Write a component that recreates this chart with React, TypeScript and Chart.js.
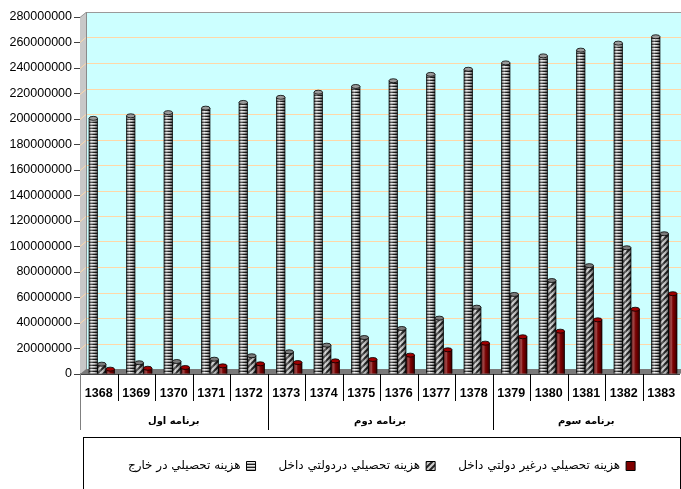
import React, { useEffect, useRef } from 'react';
import { Chart, registerables } from 'chart.js';
Chart.register(...registerables);

const years = ['1368', '1369', '1370', '1371', '1372', '1373', '1374', '1375', '1376', '1377', '1378', '1379', '1380', '1381', '1382', '1383'];
const abroad = [200500000, 202500000, 205000000, 208500000, 213000000, 217000000, 221000000, 225500000, 230000000, 235000000, 239000000, 244000000, 249500000, 254000000, 259500000, 264500000];
const govDomestic = [7700000, 8800000, 9800000, 11600000, 14300000, 17400000, 22600000, 28600000, 35700000, 43800000, 52400000, 62400000, 73300000, 85000000, 99000000, 110000000];
const privateDomestic = [3800000, 4500000, 5100000, 6400000, 8000000, 9000000, 10300000, 11400000, 14800000, 19000000, 24200000, 29200000, 33600000, 42500000, 50800000, 63000000];
const seriesNames = ['هزينه تحصيلي در خارج', 'هزينه تحصيلي دردولتي داخل', 'هزينه تحصيلي درغير دولتي داخل'];
const programs = ['برنامه اول', 'برنامه دوم', 'برنامه سوم'];
const programSizes = [5, 6, 5];
const yMax = 280000000;
const yStep = 20000000;

function makeStripes(): CanvasPattern | string {
  const c = document.createElement('canvas');
  c.width = 4; c.height = 3;
  const g = c.getContext('2d');
  if (!g) return '#888';
  g.fillStyle = '#ececec'; g.fillRect(0, 0, 4, 1);
  g.fillStyle = '#a0a0a0'; g.fillRect(0, 1, 4, 1);
  g.fillStyle = '#202020'; g.fillRect(0, 2, 4, 1);
  return g.createPattern(c, 'repeat') || '#888';
}

function makeHatch(): CanvasPattern | string {
  const c = document.createElement('canvas');
  c.width = 6; c.height = 6;
  const g = c.getContext('2d');
  if (!g) return '#666';
  g.fillStyle = '#d0d0d0'; g.fillRect(0, 0, 6, 6);
  g.strokeStyle = '#262626'; g.lineWidth = 2;
  g.beginPath();
  g.moveTo(-1, 7); g.lineTo(7, -1);
  g.moveTo(-4, 4); g.lineTo(4, -4);
  g.moveTo(2, 10); g.lineTo(10, 2);
  g.stroke();
  return g.createPattern(c, 'repeat') || '#666';
}

const DX = 6, DY = 5, SHIFT = 3;
const capColors = ['#9a9a9a', '#7a7a7a', '#a00000'];

const threeD = {
  id: 'threeD',
  afterLayout(chart: any) {
    const lg = chart.legend;
    if (lg) { lg.left = 83; lg.right = 680; lg.width = 597; }
  },
  beforeDatasetsDraw(chart: any) {
    const { ctx, chartArea, scales } = chart;
    const { left, top, right, bottom } = chartArea;
    const y = scales.y;
    ctx.save();
    ctx.fillStyle = '#CCFFFF';
    ctx.fillRect(left + DX, top - DY, right - left, bottom - top);
    ctx.fillStyle = '#C8C8C8';
    ctx.beginPath();
    ctx.moveTo(left, top); ctx.lineTo(left + DX, top - DY); ctx.lineTo(left + DX, bottom - DY); ctx.lineTo(left, bottom);
    ctx.closePath(); ctx.fill();
    ctx.lineWidth = 1;
    y.ticks.forEach((t: any) => {
      if (t.value <= 0) return;
      const py = Math.round(y.getPixelForValue(t.value)) + 0.5;
      ctx.strokeStyle = t.value >= yMax ? '#9a9a9a' : '#FFD8A8';
      ctx.beginPath();
      ctx.moveTo(left, py); ctx.lineTo(left + DX, py - DY); ctx.lineTo(right + DX, py - DY);
      ctx.stroke();
    });
    ctx.strokeStyle = '#8a8a8a';
    ctx.beginPath();
    ctx.moveTo(left + DX + 0.5, top - DY); ctx.lineTo(left + DX + 0.5, bottom - DY);
    ctx.stroke();
    ctx.fillStyle = '#7a7a7a';
    ctx.beginPath();
    ctx.moveTo(left, bottom); ctx.lineTo(left + DX, bottom - DY); ctx.lineTo(right + DX, bottom - DY); ctx.lineTo(right, bottom);
    ctx.closePath(); ctx.fill();
    ctx.restore();
    ctx.save();
    ctx.translate(SHIFT, 0);
  },
  afterDatasetsDraw(chart: any) {
    const { ctx } = chart;
    chart.data.datasets.forEach((ds: any, di: number) => {
      const meta = chart.getDatasetMeta(di);
      meta.data.forEach((el: any) => {
        const { x, y, base, width } = el.getProps(['x', 'y', 'base', 'width'], true);
        const l = x - width / 2;
        const h = base - y;
        const grad = ctx.createLinearGradient(l, 0, l + width, 0);
        grad.addColorStop(0, 'rgba(0,0,0,0.55)');
        grad.addColorStop(0.35, 'rgba(255,255,255,0.25)');
        grad.addColorStop(0.6, 'rgba(0,0,0,0.05)');
        grad.addColorStop(1, 'rgba(0,0,0,0.6)');
        ctx.fillStyle = grad;
        ctx.fillRect(l, y, width, h);
        ctx.strokeStyle = 'rgba(0,0,0,0.85)';
        ctx.lineWidth = 0.8;
        ctx.beginPath();
        ctx.moveTo(l, y); ctx.lineTo(l, base);
        ctx.moveTo(l + width, y); ctx.lineTo(l + width, base);
        ctx.stroke();
        ctx.beginPath();
        ctx.ellipse(x, y, width / 2, 2, 0, 0, Math.PI * 2);
        ctx.fillStyle = capColors[di];
        ctx.fill();
        ctx.strokeStyle = '#000';
        ctx.stroke();
      });
    });
    ctx.restore();
  },
  afterDraw(chart: any) {
    const { ctx, chartArea, scales } = chart;
    const { left, right, bottom } = chartArea;
    const x = scales.x;
    const n = years.length;
    const half = (x.getPixelForValue(1) - x.getPixelForValue(0)) / 2;
    const edge = (i: number) => (i < n ? x.getPixelForValue(i) - half : x.getPixelForValue(n - 1) + half);
    ctx.save();
    ctx.strokeStyle = '#404040';
    ctx.lineWidth = 1;
    ctx.beginPath();
    ctx.moveTo(left, bottom + 0.5); ctx.lineTo(right, bottom + 0.5);
    ctx.stroke();
    ctx.strokeStyle = '#000';
    ctx.beginPath();
    for (let i = 1; i < n; i++) {
      const px = Math.round(edge(i)) + 0.5;
      ctx.moveTo(px, bottom); ctx.lineTo(px, bottom + 27);
    }
    ctx.stroke();
    let start = 0;
    ctx.font = 'bold 10px "DejaVu Sans"';
    ctx.fillStyle = '#000';
    ctx.textAlign = 'center';
    ctx.textBaseline = 'middle';
    (ctx as any).direction = 'rtl';
    programs.forEach((p, k) => {
      const end = start + programSizes[k];
      const a = edge(start), b = edge(end);
      ctx.fillText(p, (a + b) / 2, bottom + 47);
      if (end < n) {
        const px = Math.round(b) + 0.5;
        ctx.beginPath();
        ctx.moveTo(px, bottom); ctx.lineTo(px, bottom + 56);
        ctx.stroke();
      }
      start = end;
    });
    ctx.strokeStyle = '#808080';
    ctx.beginPath();
    ctx.moveTo(left + 0.5, bottom); ctx.lineTo(left + 0.5, bottom + 56);
    ctx.stroke();
    ctx.strokeStyle = '#000';
    ctx.strokeRect(83.5, 437.5, 597, 60);
    ctx.restore();
  },
};

export default function App() {
  const ref = useRef<HTMLCanvasElement | null>(null);
  useEffect(() => {
    if (!ref.current) return;
    const stripes = makeStripes();
    const hatch = makeHatch();
    const chart = new Chart(ref.current, {
      type: 'bar',
      data: {
        labels: years,
        datasets: [
          { label: seriesNames[0], data: abroad, backgroundColor: stripes as any, borderWidth: 0 },
          { label: seriesNames[1], data: govDomestic, backgroundColor: hatch as any, borderWidth: 0 },
          { label: seriesNames[2], data: privateDomestic, backgroundColor: '#800000', borderWidth: 0 },
        ],
      },
      options: {
        responsive: false,
        animation: false,
        layout: { padding: { top: 17, right: 1, left: 0, bottom: 7 } },
        datasets: { bar: { categoryPercentage: 0.68, barPercentage: 1 } } as any,
        scales: {
          x: {
            grid: { display: false, drawTicks: false },
            border: { display: false },
            ticks: {
              color: '#000',
              padding: 12,
              maxRotation: 0,
              autoSkip: false,
              font: { family: '"Liberation Sans", Arial', size: 12.5, weight: 'bold' },
            },
            afterFit: (s: any) => { s.height = 63; s.paddingLeft = 0; s.paddingRight = 0; },
          },
          y: {
            min: 0,
            max: yMax,
            grid: { drawOnChartArea: false, drawTicks: true, tickLength: 6, color: '#404040' },
            border: { display: true, color: '#404040' },
            ticks: {
              stepSize: yStep,
              padding: 2,
              color: '#000',
              font: { family: '"Liberation Sans", Arial', size: 12.5 },
              callback: (v: any) => String(v),
            },
            afterFit: (s: any) => { s.width = 80; },
          },
        },
        plugins: {
          tooltip: { enabled: false },
          legend: {
            position: 'bottom',
            rtl: true,
            reverse: true,
            textDirection: 'rtl',
            labels: {
              boxWidth: 9,
              boxHeight: 9,
              padding: 23,
              color: '#000',
              font: { family: '"DejaVu Sans"', size: 12 },
              generateLabels: (c: any) =>
                Chart.defaults.plugins.legend.labels.generateLabels(c).map((it: any) => ({ ...it, lineWidth: 1, strokeStyle: '#000' })),
            },
          },
        },
      },
      plugins: [threeD],
    });
    return () => chart.destroy();
  }, []);
  return (
    <div style={{ position: 'absolute', left: 0, top: 0, width: 681, height: 489, background: '#fff' }}>
      <canvas ref={ref} width={681} height={489} />
    </div>
  );
}
